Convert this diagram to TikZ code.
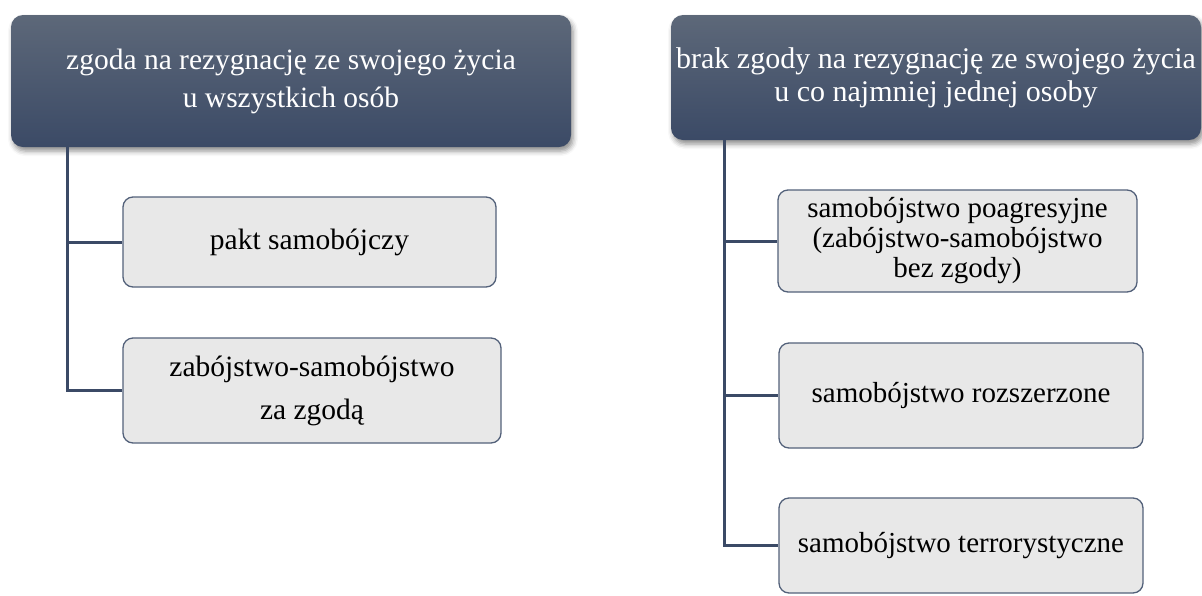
\documentclass[tikz,border=0pt]{standalone}
\usepackage{fontspec}
\setmainfont{Liberation Serif}
\usetikzlibrary{shadows.blur}

\definecolor{hdtop}{HTML}{5D6879}
\definecolor{hdbot}{HTML}{3B4A66}
\definecolor{boxfill}{HTML}{E8E8E8}
\definecolor{boxline}{HTML}{53617A}
\definecolor{linkcol}{HTML}{3B4A66}

\tikzset{
  header/.style={rectangle, rounded corners=12pt, draw=none,
    top color=hdtop, bottom color=hdbot, text=white, align=center,
    inner sep=0pt,
    blur shadow={shadow xshift=2pt, shadow yshift=-4pt,
      shadow blur radius=5pt, shadow opacity=45}},
  leaf/.style={rectangle, rounded corners=10pt, draw=boxline,
    line width=1.3pt, fill=boxfill, text=black, align=center, inner sep=0pt},
  link/.style={draw=linkcol, line width=3pt}
}

\begin{document}
\begin{tikzpicture}[x=1pt, y=-1pt]
\useasboundingbox (0,0) rectangle (1202,595);

% left branch: consent of everyone involved
\node[header, minimum width=560pt, minimum height=132pt,
      font={\fontsize{29.5}{38}\selectfont}] (h1) at (291,81)
  {zgoda na rezygnację ze swojego życia\\u wszystkich osób};
\node[leaf, minimum width=373pt, minimum height=90pt,
      font={\fontsize{29.5}{43}\selectfont}] (l1) at (309.5,242)
  {pakt samobójczy};
\node[leaf, minimum width=378pt, minimum height=105pt,
      font={\fontsize{29.5}{43}\selectfont}] (l2) at (312,390.5)
  {zabójstwo-samobójstwo\\za zgodą};

% right branch: no consent of at least one person
\node[header, minimum width=530pt, minimum height=125pt,
      font={\fontsize{30}{33}\selectfont}] (h2) at (936,77.5)
  {brak zgody na rezygnację ze swojego życia\\u co najmniej jednej osoby};
\node[leaf, minimum width=359pt, minimum height=102pt,
      font={\fontsize{29}{30}\selectfont}] (r1) at (957.5,241)
  {samobójstwo poagresyjne\\(zabójstwo-samobójstwo\\bez zgody)};
\node[leaf, minimum width=364pt, minimum height=105pt,
      font={\fontsize{29}{30}\selectfont}] (r2) at (961,395.5)
  {samobójstwo rozszerzone};
\node[leaf, minimum width=364pt, minimum height=95pt,
      font={\fontsize{29}{30}\selectfont}] (r3) at (961,545.5)
  {samobójstwo terrorystyczne};

% trunk positions
\coordinate (lt) at (67,0);
\coordinate (rt) at (724,0);

\draw[link] (h1.south -| lt) |- (l1.west);
\draw[link] (h1.south -| lt) |- (l2.west);
\draw[link] (h2.south -| rt) |- (r1.west);
\draw[link] (h2.south -| rt) |- (r2.west);
\draw[link] (h2.south -| rt) |- (r3.west);
\end{tikzpicture}
\end{document}
